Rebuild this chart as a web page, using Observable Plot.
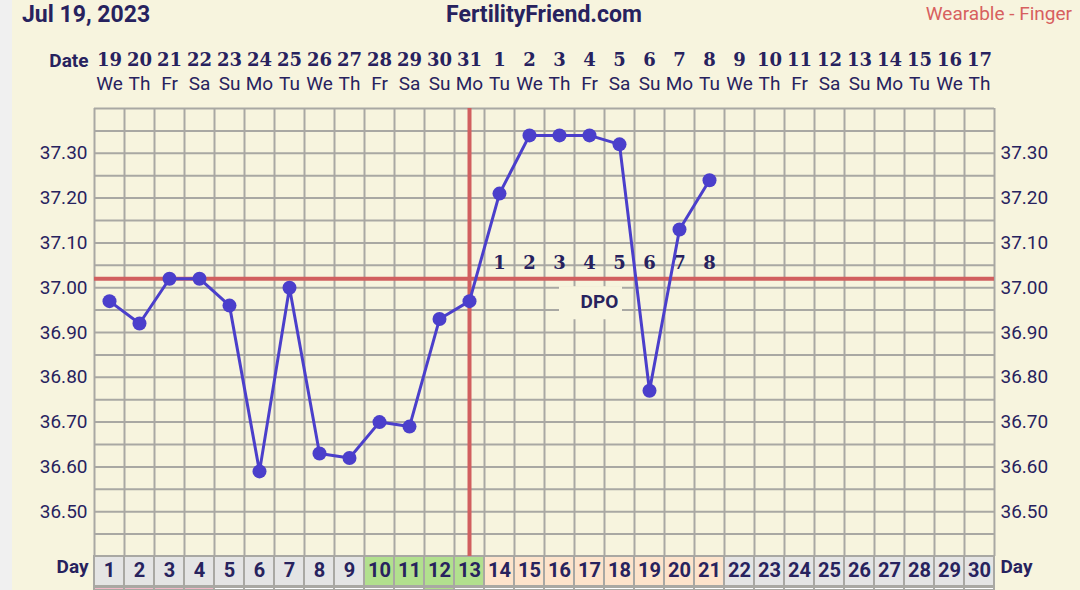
<!DOCTYPE html>
<html>
<head>
<meta charset="utf-8">
<script src="https://cdn.jsdelivr.net/npm/d3@7"></script>
<script src="https://cdn.jsdelivr.net/npm/@observablehq/plot@0.6"></script>
<style>
  html, body { margin: 0; padding: 0; }
  body { width: 1080px; height: 590px; overflow: hidden; background: #f0f0f0; font-family: Roboto, "Noto Sans", sans-serif; }
  #page { position: absolute; left: 12px; top: 0; width: 1068px; height: 590px; background: #f7f4de; }
  #header { position: absolute; left: 0; top: 0; width: 1080px; height: 32px; color: #27225e; }
  #header span { position: absolute; white-space: nowrap; }
  #date { left: 22px; top: 1px; font-weight: bold; font-size: 23px; letter-spacing: 0px; }
  #site { left: 544px; top: 1px; transform: translateX(-50%); font-weight: bold; font-size: 23px; letter-spacing: 0px; }
  #source { right: 8px; top: 2px; color: #d7605e; font-size: 19px; }
  #chart { position: absolute; left: 0; top: 32px; }
</style>
</head>
<body>
<div id="page"></div>
<div id="header">
  <span id="date">Jul 19, 2023</span>
  <span id="site">FertilityFriend.com</span>
  <span id="source">Wearable - Finger</span>
</div>
<div id="chart"></div>
<script>
// ---- data ----
const cycleDays = d3.range(1, 31);
const dateNumbers = [19,20,21,22,23,24,25,26,27,28,29,30,31,1,2,3,4,5,6,7,8,9,10,11,12,13,14,15,16,17];
const weekdayNames = ["We","Th","Fr","Sa","Su","Mo","Tu","We","Th","Fr","Sa","Su","Mo","Tu","We","Th","Fr","Sa","Su","Mo","Tu","We","Th","Fr","Sa","Su","Mo","Tu","We","Th"];
const tempDays = d3.range(1, 22);
const temperatures = [36.97,36.92,37.02,37.02,36.96,36.59,37.00,36.63,36.62,36.70,36.69,36.93,36.97,37.21,37.34,37.34,37.34,37.32,36.77,37.13,37.24];
const coverline = 37.02;
const ovulationDay = 13;
const dpoDays = [14,15,16,17,18,19,20,21];
const dpoNumbers = [1,2,3,4,5,6,7,8];
const dpoLabelDay = 17.33;
const dpoBoxDays = [16.0, 18.1];
const fertileDays = [10,11,12,13];
const lutealDays = [14,15,16,17,18,19,20,21];
const periodDays = [1,2,3,4];
const markedDays = [12];
const yTicks = [36.50,36.60,36.70,36.80,36.90,37.00,37.10,37.20,37.30];
const yDomain = [36.40, 37.40];

// ---- derived ----
const tempData = tempDays.map((d, i) => ({day: d, temp: temperatures[i]}));
const dayCells = cycleDays.map(d => ({
  day: d,
  kind: fertileDays.includes(d) ? "fertile" : lutealDays.includes(d) ? "luteal" : "other",
  strip: periodDays.includes(d) ? "period" : markedDays.includes(d) ? "marked" : "none"
}));
const cellColor = {fertile: "#b2e08e", luteal: "#fde3cb", other: "#e4e4e4"};
const stripColor = {period: "#f2b8c8", marked: "#b2e08e", none: "#ffffff"};
const hGrid = d3.range(0, 21).map(i => +(yDomain[0] + i * 0.05).toFixed(2));
const vGrid = d3.range(0, 31).map(i => i + 0.5);
const ink = "#27225e";
const gridColor = "#a9a8a3";
const red = "#d15f5f";
const blue = "#4b3fcb";

const chart = Plot.plot({
  width: 1080,
  height: 558,
  marginLeft: 94,
  marginRight: 86,
  marginTop: 76,
  marginBottom: 34,
  style: {background: "transparent", fontFamily: "Roboto, 'Noto Sans', sans-serif", color: ink, overflow: "visible"},
  x: {domain: [0.5, 30.5], label: null},
  y: {domain: yDomain, label: null},
  marks: [
    // grid
    Plot.ruleY(hGrid, {stroke: gridColor, strokeWidth: 2}),
    Plot.ruleX(vGrid, {y1: yDomain[0], y2: yDomain[1], stroke: gridColor, strokeWidth: 2}),
    // day row cells
    Plot.rect(dayCells, {x1: d => d.day - 0.5, x2: d => d.day + 0.5, y1: yDomain[0], y2: yDomain[0], insetBottom: -30, fill: d => cellColor[d.kind], stroke: gridColor, strokeWidth: 2}),
    Plot.rect(dayCells, {x1: d => d.day - 0.5, x2: d => d.day + 0.5, y1: yDomain[0], y2: yDomain[0], insetTop: 31, insetBottom: -34, fill: d => stripColor[d.strip], stroke: gridColor, strokeWidth: 2}),
    // coverline & ovulation line
    Plot.ruleY([coverline], {stroke: red, strokeWidth: 4}),
    Plot.ruleX([ovulationDay], {y1: yDomain[0], y2: yDomain[1], stroke: red, strokeWidth: 4}),
    // DPO box + labels
    Plot.rect([0], {x1: dpoBoxDays[0], x2: dpoBoxDays[1], y1: coverline, y2: coverline, insetTop: 8, insetBottom: -41, fill: "#f7f4de"}),
    Plot.text(["DPO"], {x: dpoLabelDay, y: coverline, dy: 23, text: d => d, fontSize: 19, fontWeight: "bold", fill: ink}),
    Plot.text(dpoDays, {x: d => d, y: coverline, dy: -16, text: (d, i) => dpoNumbers[i], fontSize: 18, fontWeight: "bold", fontFamily: "'DejaVu Serif', serif", fill: ink}),
    // temperature line
    Plot.line(tempData, {x: "day", y: "temp", stroke: blue, strokeWidth: 3}),
    Plot.dot(tempData, {x: "day", y: "temp", r: 7, fill: blue}),
    // axes
    Plot.axisY({anchor: "left", ticks: yTicks, tickFormat: d3.format(".2f"), tickSize: 0, tickPadding: 7, fontSize: 19, fill: ink, label: null}),
    Plot.axisY({anchor: "right", ticks: yTicks, tickFormat: d3.format(".2f"), tickSize: 0, tickPadding: 6, fontSize: 19, fill: ink, label: null}),
    Plot.axisX(cycleDays, {anchor: "top", tickSize: 0, tickPadding: 43, tickFormat: d => dateNumbers[d - 1], fontSize: 18, fontWeight: "bold", fontFamily: "'DejaVu Serif', serif", fill: ink, label: null}),
    Plot.axisX(cycleDays, {anchor: "top", tickSize: 0, tickPadding: 19, tickFormat: d => weekdayNames[d - 1], fontSize: 19, fill: ink, label: null}),
    Plot.axisX(cycleDays, {anchor: "bottom", tickSize: 0, tickPadding: 6, tickFormat: d => d, fontSize: 20, fontWeight: "bold", fill: ink, label: null}),
    // row labels
    Plot.text(["Date"], {frameAnchor: "top-left", text: d => d, dx: -6, dy: -55, textAnchor: "end", fontSize: 19, fontWeight: "bold", fill: ink}),
    Plot.text(["Day"], {frameAnchor: "bottom-left", text: d => d, dx: -6, dy: 16, textAnchor: "end", fontSize: 19, fontWeight: "bold", fill: ink}),
    Plot.text(["Day"], {frameAnchor: "bottom-right", text: d => d, dx: 6, dy: 16, textAnchor: "start", fontSize: 19, fontWeight: "bold", fill: ink})
  ]
});
document.getElementById("chart").appendChild(chart);
</script>
</body>
</html>
